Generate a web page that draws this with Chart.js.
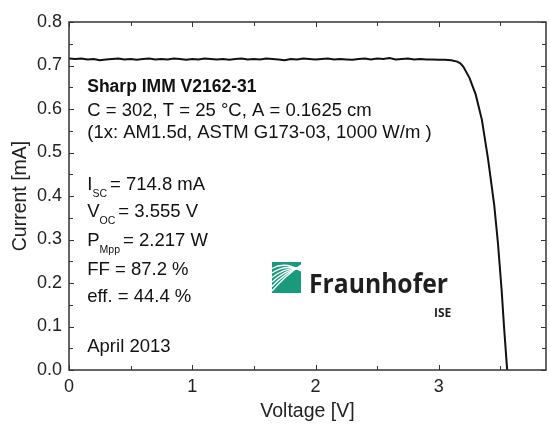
<!DOCTYPE html>
<html>
<head>
  <title>Sharp IMM V2162-31 IV curve</title>
  <script src="https://cdn.jsdelivr.net/npm/chart.js"></script>
  <style>
    body { margin: 0; background: #fff; }
  </style>
</head>
<body>
  <canvas id="chart" width="550" height="424"></canvas>

  <script>
    // IV curve (V, and current as labelled on the axis)
    var voltage = [
      0.00, 0.05, 0.10, 0.15, 0.20, 0.25, 0.30, 0.35, 0.40, 0.45,
      0.50, 0.55, 0.60, 0.65, 0.70, 0.75, 0.80, 0.85, 0.90, 0.95,
      1.00, 1.05, 1.10, 1.15, 1.20, 1.25, 1.30, 1.35, 1.40, 1.45,
      1.50, 1.55, 1.60, 1.65, 1.70, 1.75, 1.80, 1.85, 1.90, 1.95,
      2.00, 2.05, 2.10, 2.15, 2.20, 2.25, 2.30, 2.35, 2.40, 2.45,
      2.50, 2.55, 2.60, 2.65, 2.70, 2.75, 2.80, 2.85, 2.90, 2.95,
      3.00, 3.05, 3.10, 3.15, 3.175, 3.20, 3.25, 3.30, 3.35, 3.40,
      3.45, 3.48, 3.51, 3.53, 3.555
    ];
    var current = [
      0.716, 0.715, 0.716, 0.714, 0.715, 0.712, 0.714, 0.715, 0.716, 0.714,
      0.715, 0.713, 0.715, 0.716, 0.714, 0.715, 0.714, 0.716, 0.715, 0.713,
      0.715, 0.714, 0.716, 0.715, 0.714, 0.715, 0.713, 0.715, 0.716, 0.714,
      0.715, 0.714, 0.716, 0.715, 0.714, 0.712, 0.715, 0.714, 0.716, 0.715,
      0.714, 0.715, 0.716, 0.714, 0.715, 0.714, 0.713, 0.715, 0.716, 0.714,
      0.716, 0.715, 0.717, 0.714, 0.715, 0.716, 0.714, 0.715, 0.714, 0.714,
      0.713, 0.713, 0.712, 0.709, 0.705, 0.697, 0.671, 0.633, 0.575, 0.485,
      0.379, 0.292, 0.184, 0.097, 0.000
    ];

    var xTicks = [0, 1, 2, 3];
    var xMinor = [0.5, 1.5, 2.5, 3.5];
    var yTicks = [0, 0.1, 0.2, 0.3, 0.4, 0.5, 0.6, 0.7, 0.8];
    var yMinor = [0.05, 0.15, 0.25, 0.35, 0.45, 0.55, 0.65, 0.75];

    var FONT = '"Liberation Sans", Arial, sans-serif';

    // box round the plot plus the small inward ticks on all four sides
    var frameTicks = {
      id: 'frameTicks',
      afterDraw: function (c) {
        var a = c.chartArea, g = c.ctx;
        var xs = c.scales.x, ys = c.scales.y;
        g.save();
        g.strokeStyle = '#333';
        g.lineWidth = 1.5;
        g.strokeRect(a.left, a.top, a.right - a.left, a.bottom - a.top);
        g.lineWidth = 1;
        g.beginPath();
        xTicks.concat(xMinor).forEach(function (v) {
          var px = Math.round(xs.getPixelForValue(v)) + 0.5;
          var len = xTicks.indexOf(v) >= 0 ? 5 : 4;
          g.moveTo(px, a.bottom); g.lineTo(px, a.bottom - len);
          g.moveTo(px, a.top); g.lineTo(px, a.top + len);
        });
        yTicks.concat(yMinor).forEach(function (v) {
          var py = Math.round(ys.getPixelForValue(v)) + 0.5;
          var len = yTicks.indexOf(v) >= 0 ? 5 : 4;
          g.moveTo(a.left, py); g.lineTo(a.left + len, py);
          g.moveTo(a.right, py); g.lineTo(a.right - len, py);
        });
        g.stroke();
        g.restore();
      }
    };

    function subText(g, x, y, main, sub, rest) {
      g.font = '18.5px ' + FONT;
      g.fillText(main, x, y);
      x += g.measureText(main).width;
      g.font = '10.5px ' + FONT;
      g.fillText(sub, x, y + 7);
      x += g.measureText(sub).width + 3;
      g.font = '18.5px ' + FONT;
      g.fillText(rest, x, y);
    }

    // text block and the Fraunhofer ISE mark inside the plot
    var notes = {
      id: 'notes',
      afterDraw: function (c) {
        var g = c.ctx;
        var x0 = c.scales.x.getPixelForValue(0.148);
        g.save();
        g.fillStyle = '#111';
        g.textAlign = 'left';
        g.textBaseline = 'alphabetic';
        g.font = 'bold 17.5px ' + FONT;
        g.fillText('Sharp IMM V2162-31', x0, 92);
        g.font = '18.5px ' + FONT;
        g.fillText('C = 302, T = 25 \u00B0C, A = 0.1625 cm', x0, 116);
        g.fillText('(1x: AM1.5d, ASTM G173-03, 1000 W/m )', x0, 138);
        subText(g, x0, 190, 'I', 'SC', '= 714.8 mA');
        subText(g, x0, 217, 'V', 'OC', '= 3.555 V');
        subText(g, x0, 246, 'P', 'Mpp', '= 2.217 W');
        g.font = '18.5px ' + FONT;
        g.fillText('FF = 87.2 %', x0, 275);
        g.fillText('eff. = 44.4 %', x0, 302);
        g.fillText('April 2013', x0, 352);

        // logo square
        var lx = 272, ly = 262, lw = 29, lh = 31;
        g.fillStyle = '#1a9a7c';
        g.fillRect(lx, ly, lw, lh);
        g.strokeStyle = '#fff';
        g.lineWidth = 1.4;
        for (var k = 0; k < 6; k++) {
          g.beginPath();
          g.moveTo(lx, ly + lh - 2 - k * 4.5);
          g.quadraticCurveTo(lx + lw * 0.45, ly + lh * 0.45 - k * 3, lx + lw, ly + 3 + k * 1.2);
          g.stroke();
        }
        g.fillStyle = '#1f1f1f';
        g.font = 'bold 26px "Open Sans", sans-serif';
        g.fillText('Fraunhofer', 309, 293, 139);
        g.font = 'bold 12px "Open Sans", sans-serif';
        g.fillText('ISE', 434, 317);
        g.restore();
      }
    };

    var ctx = document.getElementById('chart').getContext('2d');
    var chart = new Chart(ctx, {
      type: 'scatter',
      data: {
        datasets: [{
          data: voltage.map(function (v, i) { return { x: v, y: current[i] }; }),
          showLine: true,
          borderColor: '#111',
          borderWidth: 2,
          pointRadius: 0,
          tension: 0
        }]
      },
      options: {
        responsive: false,
        animation: false,
        layout: { padding: { top: 22, right: 4, left: 0, bottom: 0 } },
        plugins: { legend: { display: false }, tooltip: { enabled: false } },
        scales: {
          x: {
            type: 'linear',
            min: 0,
            max: 3.87,
            afterBuildTicks: function (s) { s.ticks = xTicks.map(function (v) { return { value: v }; }); },
            afterFit: function (s) { s.height = 54; },
            ticks: { color: '#222', font: { family: FONT, size: 18 }, padding: 6 },
            grid: { display: false, drawTicks: false },
            border: { display: false },
            title: { display: true, text: 'Voltage [V]', color: '#222', font: { family: FONT, size: 19.5 }, padding: { top: 0, bottom: 1 } }
          },
          y: {
            min: 0,
            max: 0.8,
            afterBuildTicks: function (s) { s.ticks = yTicks.map(function (v) { return { value: v }; }); },
            afterFit: function (s) { s.width = 69; },
            ticks: { color: '#222', font: { family: FONT, size: 18 }, padding: 7, callback: function (v) { return v.toFixed(1); } },
            grid: { display: false, drawTicks: false },
            border: { display: false },
            title: { display: true, text: 'Current [mA]', color: '#222', font: { family: FONT, size: 19.5 }, padding: { top: 9, bottom: 0 } }
          }
        }
      },
      plugins: [frameTicks, notes]
    });
  </script>
</body>
</html>
